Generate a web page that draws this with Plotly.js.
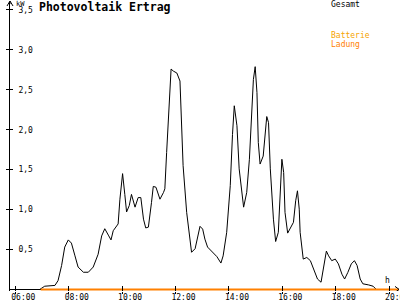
<!DOCTYPE html>
<html>
<head>
<meta charset="utf-8">
<script src="https://cdn.plot.ly/plotly-3.0.1.min.js"></script>
<style>html,body{margin:0;padding:0;background:#fff;}#chart{width:400px;height:300px;}</style>
</head>
<body>
<div id="chart"></div>
<script>
// ---- data ----
var times = ["06:55","07:06","07:29","07:36","07:44","07:51","07:59","08:06","08:14","08:21","08:33","08:44","08:55","09:06","09:14","09:21","09:29","09:35","09:40","09:48","09:51","09:55","10:01","10:06","10:10","10:16","10:21","10:29","10:36","10:42","10:48","10:53","10:59","11:06","11:10","11:16","11:25","11:33","11:36","11:40","11:46","11:50","11:55","12:03","12:10","12:14","12:17","12:25","12:33","12:36","12:44","12:49","12:55","13:01","13:06","13:12","13:21","13:33","13:42","13:47","13:55","14:03","14:08","14:12","14:18","14:23","14:33","14:40","14:46","14:51","14:55","14:59","15:03","15:06","15:10","15:17","15:21","15:25","15:29","15:33","15:40","15:45","15:51","15:55","15:59","16:03","16:06","16:12","16:17","16:25","16:30","16:34","16:38","16:40","16:47","16:55","17:03","17:11","17:19","17:27","17:32","17:39","17:44","17:51","17:59","18:06","18:14","18:20","18:27","18:35","18:42","18:48","18:55","19:01","19:14","19:24","19:31"];
var gesamt = [0,0.04,0.05,0.11,0.30,0.53,0.62,0.58,0.42,0.28,0.215,0.215,0.28,0.44,0.67,0.76,0.68,0.62,0.735,0.80,0.82,1.13,1.45,1.19,0.97,1.05,1.19,1.03,1.15,1.15,0.88,0.77,0.78,1.09,1.29,1.28,1.13,1.215,1.26,1.715,2.38,2.76,2.735,2.71,2.61,2.05,1.55,0.965,0.55,0.465,0.51,0.65,0.79,0.755,0.63,0.53,0.48,0.41,0.33,0.42,0.715,1.30,1.94,2.30,2.05,1.51,1.03,1.215,1.63,2.26,2.63,2.79,2.465,1.84,1.57,1.67,1.88,2.165,2.09,1.51,0.88,0.60,0.715,1.215,1.63,1.465,0.965,0.705,0.755,0.84,1.11,1.235,1.005,0.715,0.38,0.40,0.36,0.256,0.13,0.09,0.256,0.48,0.42,0.36,0.38,0.32,0.19,0.13,0.21,0.32,0.36,0.30,0.13,0.07,0.056,0.04,0];
var ladungTimes = ["06:57","20:30"];
var ladung = [0,0];
var xTickVals = [6,8,10,12,14,16,18,20];
var xTickText = ["06:00","08:00","10:00","12:00","14:00","16:00","18:00","20:00"];
var yTickVals = [0.5,1.0,1.5,2.0,2.5,3.0,3.5];
var yTickText = ["0,5","1,0","1,5","2,0","2,5","3,0","3,5"];

function toHours(s){var p=s.split(":");return +p[0]+(+p[1])/60;}

var MONO = "DejaVu Sans Mono";
var xr = [5.80, 20.37];
var yr = [-0.02, 3.60];

var traces = [
  {x: times.map(toHours), y: gesamt, type:"scatter", mode:"lines",
   line:{color:"#000000", width:1}, hoverinfo:"skip"},
  {x: ladungTimes.map(toHours), y: ladung, type:"scatter", mode:"lines",
   line:{color:"#ff8000", width:2}, hoverinfo:"skip"},
  {x:[6], y:[0], xaxis:"x2", yaxis:"y2", type:"scatter", mode:"lines",
   line:{color:"rgba(0,0,0,0)"}, hoverinfo:"skip"}
];

// paper helpers (plot area x:10..399, y:2..291 px)
function px(v){return (v-10)/389;}
function py(v){return (291-v)/289;}

var layout = {
  width:400, height:300,
  margin:{l:10, r:1, t:2, b:9, pad:0},
  paper_bgcolor:"#ffffff", plot_bgcolor:"#ffffff",
  showlegend:false,
  title:{text:"Photovoltaik Ertrag", font:{family:MONO, size:11.5, color:"#000000", weight:"bold"},
         x:39/400, xanchor:"left", xref:"container", y:1-3/300, yanchor:"top", yref:"container"},
  xaxis:{range:xr, tickvals:xTickVals, ticktext:xTickText, ticks:"inside", ticklen:5,
         tickcolor:"#000", tickwidth:1, showline:false, showgrid:false, zeroline:false,
         tickfont:{family:MONO, size:8, color:"#000"}, ticklabelshift:8,
         ticklabeloverflow:"allow", fixedrange:true},
  yaxis:{range:yr, tickvals:yTickVals, ticktext:yTickText, ticks:"inside", ticklen:3,
         tickcolor:"#000", tickwidth:1, showline:true, linecolor:"#000", linewidth:1,
         showgrid:false, zeroline:true, zerolinecolor:"#000", zerolinewidth:1,
         ticklabelposition:"inside", ticklabelstandoff:4, ticklabeloverflow:"allow",
         tickfont:{family:MONO, size:8, color:"#000"}, fixedrange:true},
  xaxis2:{range:xr, overlaying:"x", anchor:"y2", tickvals:xTickVals, ticks:"outside", ticklen:2,
          tickcolor:"#000", showticklabels:false, showline:false, showgrid:false, zeroline:false},
  yaxis2:{range:yr, overlaying:"y", anchor:"x2", tickvals:yTickVals, ticks:"outside", ticklen:3,
          tickcolor:"#000", showticklabels:false, showline:false, showgrid:false, zeroline:false},
  shapes:[
    {type:"path", xref:"paper", yref:"paper", xsizemode:"pixel", ysizemode:"pixel",
     xanchor:0, yanchor:1, path:"M-3,-4 L0,1 L3,-4 M0,1 L0,-2", line:{color:"#000", width:1}},
    {type:"path", xref:"paper", yref:"y", xsizemode:"pixel", ysizemode:"pixel",
     xanchor:1, yanchor:0, path:"M-4,3 L0,0 L-4,-3", line:{color:"#000", width:1}}
  ],
  annotations:[
    {text:"kW", xref:"paper", yref:"paper", x:px(14), y:py(4), xanchor:"left", yanchor:"middle",
     showarrow:false, font:{family:MONO, size:7, color:"#000"}},
    {text:"Gesamt", xref:"paper", yref:"paper", x:px(329), y:py(4.5), xanchor:"left", yanchor:"middle",
     showarrow:false, font:{family:MONO, size:8, color:"#000"}},
    {text:"Batterie", xref:"paper", yref:"paper", x:px(329), y:py(35.5), xanchor:"left", yanchor:"middle",
     showarrow:false, font:{family:MONO, size:8, color:"#f5a300"}},
    {text:"Ladung", xref:"paper", yref:"paper", x:px(329), y:py(44), xanchor:"left", yanchor:"middle",
     showarrow:false, font:{family:MONO, size:8, color:"#ff8000"}},
    {text:"h", xref:"paper", yref:"paper", x:px(387), y:py(280.5), xanchor:"center", yanchor:"middle",
     showarrow:false, font:{family:MONO, size:8, color:"#000"}}
  ]
};

Plotly.newPlot("chart", traces, layout, {staticPlot:true, displayModeBar:false});
</script>
</body>
</html>
